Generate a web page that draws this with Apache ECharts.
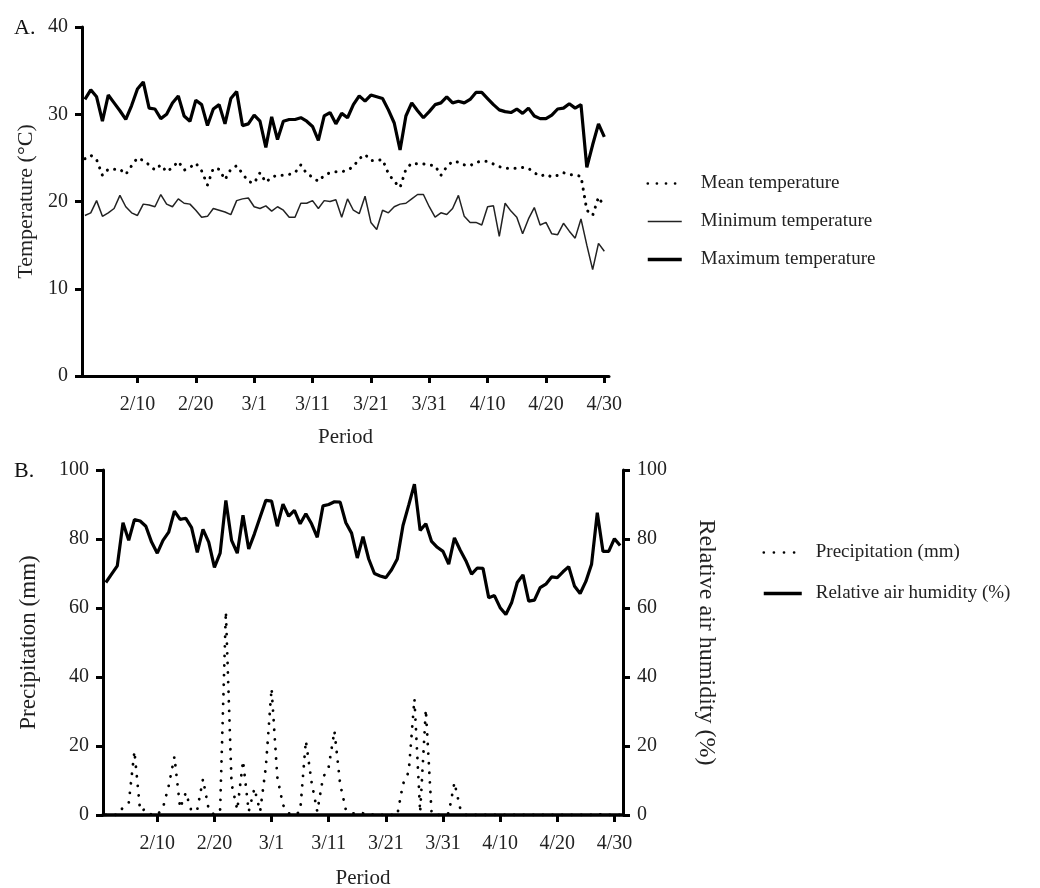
<!DOCTYPE html>
<html>
<head>
<meta charset="utf-8">
<script src="https://cdn.jsdelivr.net/npm/echarts@6/dist/echarts.min.js"></script>
<style>
  html, body { margin: 0; padding: 0; background: #fff; }
  #chart { width: 1040px; height: 888px; }
</style>
</head>
<body>
<div id="chart"></div>
<script>
  // tick positions (day number, Feb 1 = day 1) and their labels
  const tickDays = [10, 20, 30, 40, 50, 60, 70, 80, 90];
  const tickLabels = ['2/10', '2/20', '3/1', '3/11', '3/21', '3/31', '4/10', '4/20', '4/30'];

  // panel A, daily temperature (°C)
  const meanTemp = [24.9, 25.3, 24.8, 23.0, 23.7, 23.7, 23.7, 23.1, 24.1, 25.0,
    24.7, 24.2, 23.6, 24.2, 23.4, 23.9, 24.6, 23.6, 23.9, 24.4,
    23.5, 21.9, 23.8, 23.7, 22.5, 23.7, 24.1, 23.2, 22.3, 22.1,
    23.3, 22.2, 22.8, 23.0, 23.0, 23.1, 23.3, 24.2, 23.2, 22.8,
    22.3, 23.0, 23.3, 23.4, 23.4, 23.6, 24.0, 24.9, 25.4, 24.7,
    24.7, 24.8, 23.2, 22.3, 21.6, 23.7, 24.4, 24.3, 24.3, 24.2,
    24.1, 23.0, 24.0, 24.6, 24.5, 24.2, 24.1, 24.5, 24.6, 24.6,
    24.3, 24.0, 23.8, 23.8, 23.8, 23.9, 23.8, 23.3, 22.9, 23.1,
    22.8, 23.0, 23.3, 23.1, 23.0, 22.9, 19.0, 18.4, 20.5, 19.4];
  const minTemp = [18.4, 18.7, 20.1, 18.3, 18.7, 19.2, 20.7, 19.4, 18.7, 18.4,
    19.7, 19.6, 19.4, 20.8, 19.7, 19.4, 20.3, 19.8, 19.7, 19.0,
    18.2, 18.3, 19.2, 19.0, 18.8, 18.5, 20.1, 20.3, 20.4, 19.4,
    19.2, 19.5, 18.9, 19.4, 19.0, 18.2, 18.2, 19.8, 19.8, 20.1,
    19.2, 20.1, 20.0, 20.2, 18.2, 20.3, 19.0, 18.6, 20.6, 17.6,
    16.8, 19.0, 18.7, 19.4, 19.7, 19.8, 20.3, 20.8, 20.8, 19.4,
    18.2, 18.7, 18.5, 19.2, 20.7, 18.3, 17.6, 17.6, 17.3, 19.4,
    19.5, 16.0, 19.8, 18.9, 18.2, 16.3, 18.0, 19.3, 17.3, 17.6,
    16.3, 16.2, 17.5, 16.6, 15.8, 18.0, 15.0, 12.2, 15.2, 14.3];
  const maxTemp = [31.7, 32.8, 32.0, 29.2, 32.2, 31.3, 30.4, 29.4, 31.0, 32.9,
    33.7, 30.7, 30.6, 29.5, 30.0, 31.3, 32.1, 29.8, 29.2, 31.6,
    31.1, 28.7, 30.6, 31.1, 28.9, 31.8, 32.6, 28.7, 28.9, 29.9,
    29.2, 26.2, 29.7, 27.1, 29.2, 29.4, 29.4, 29.6, 29.2, 28.6,
    27.0, 29.8, 30.2, 28.9, 30.1, 29.6, 31.1, 32.1, 31.5, 32.2,
    32.0, 31.8, 30.5, 29.0, 25.9, 29.8, 31.3, 30.4, 29.6, 30.3,
    31.1, 31.3, 32.0, 31.3, 31.5, 31.3, 31.7, 32.5, 32.5, 31.8,
    31.1, 30.5, 30.3, 30.2, 30.6, 30.1, 30.7, 29.8, 29.5, 29.5,
    29.9, 30.6, 30.7, 31.2, 30.7, 31.1, 23.9, 26.5, 28.9, 27.4];

  // panel B, daily precipitation (mm) and relative air humidity (%)
  const precipitation = [0, 0, 0, 2.2, 3.4, 18.5, 1.2, 1.7, 0, 0,
    2.1, 8.5, 16.9, 2.0, 6.5, 1.0, 1.6, 10.4, 1.6, 0,
    1.6, 59.0, 9.0, 1.5, 15.7, 1.0, 7.7, 1.0, 14.0, 36.7,
    11.0, 2.9, 0.5, 0, 1.0, 21.5, 9.5, 1.0, 10.8, 14.0,
    24.4, 9.0, 1.5, 0.5, 0.5, 0.5, 0.3, 0, 0, 0,
    0, 0, 9.0, 12.5, 33.6, 0.8, 30.6, 0.5, 0, 0,
    0.5, 9.4, 2.0, 0, 0, 0, 0, 0, 0, 0,
    0, 0, 0, 0, 0, 0, 0, 0, 0, 0,
    0, 0, 0, 0, 0, 0, 0.4, 0, 0, 0, 0];
  const humidity = [67.4, 69.8, 72.2, 84.7, 79.6, 85.6, 85.2, 83.7, 79.1, 75.9,
    79.6, 82.0, 88.1, 85.7, 86.0, 83.3, 76.1, 82.8, 79.1, 71.8,
    75.9, 91.2, 79.6, 75.9, 86.9, 77.1, 81.5, 86.4, 91.2, 91.0,
    83.7, 90.1, 86.6, 88.3, 84.4, 87.3, 84.4, 80.5, 89.6, 90.0,
    90.8, 90.7, 84.7, 81.7, 74.5, 80.7, 74.2, 70.0, 69.3, 68.8,
    71.1, 74.2, 83.9, 89.8, 95.9, 82.5, 84.4, 79.3, 77.6, 76.4,
    72.7, 80.3, 76.8, 73.7, 69.8, 71.6, 71.5, 63.0, 63.6, 60.1,
    58.1, 61.5, 67.4, 69.6, 62.0, 62.3, 65.9, 66.9, 69.0, 68.8,
    70.5, 72.0, 66.4, 64.2, 67.7, 72.7, 87.6, 76.4, 76.4, 80.1, 78.1];

  const withDays = arr => arr.map((v, i) => [i + 1, v]);

  const serif = 'Liberation Serif';
  const tickText = { fontFamily: serif, fontSize: 20, color: '#222' };
  const nameText = size => ({ fontFamily: serif, fontSize: size, color: '#222' });
  const axisLine = w => ({ show: true, onZero: false, lineStyle: { color: '#000', width: w } });
  const axisTick = { show: true, length: 7, lineStyle: { color: '#000', width: 3 } };

  const dotted = (w, gap) => ({ color: '#000', width: w, type: [0.1, gap], cap: 'round' });
  const solid = (w, c) => ({ color: c || '#000', width: w });

  function dayAxis(grid, min, max, gap, lineW) {
    return {
      type: 'value', gridIndex: grid, min: min, max: max,
      name: 'Period', nameLocation: 'middle', nameGap: gap,
      nameTextStyle: nameText(21),
      axisLine: axisLine(lineW),
      axisTick: Object.assign({ customValues: tickDays }, axisTick),
      axisLabel: Object.assign({
        customValues: tickDays, margin: 19,
        formatter: v => tickLabels[tickDays.indexOf(v)] || ''
      }, tickText),
      splitLine: { show: false }
    };
  }

  function valueAxis(grid, max, interval, name, gap, pos, size) {
    return {
      type: 'value', gridIndex: grid, min: 0, max: max, interval: interval,
      position: pos, name: name, nameLocation: 'middle', nameGap: gap,
      nameRotate: pos === 'right' ? -90 : 90,
      nameTextStyle: nameText(size),
      axisLine: axisLine(3), axisTick: axisTick,
      axisLabel: Object.assign({ margin: 14 }, tickText),
      splitLine: { show: false }
    };
  }

  const chart = echarts.init(document.getElementById('chart'));
  chart.setOption({
    animation: false,
    backgroundColor: '#fff',
    title: [
      { text: 'A.', left: 9, top: 12, textStyle: { fontFamily: serif, fontSize: 22, fontWeight: 'normal', color: '#111' } },
      { text: 'B.', left: 9, top: 455, textStyle: { fontFamily: serif, fontSize: 22, fontWeight: 'normal', color: '#111' } }
    ],
    grid: [
      { left: 82, top: 27, width: 527, height: 349, outerBoundsMode: 'none' },
      { left: 103, top: 470, width: 520, height: 345, outerBoundsMode: 'none' }
    ],
    legend: [
      {
        data: [
          { name: 'Mean temperature', lineStyle: dotted(2.6, 9) },
          { name: 'Minimum temperature', lineStyle: solid(1.5, '#222') },
          { name: 'Maximum temperature', lineStyle: solid(3.5) }
        ],
        orient: 'vertical', left: 641, top: 169, itemWidth: 34, itemHeight: 14, itemGap: 19,
        itemStyle: { opacity: 0 },
        textStyle: { fontFamily: serif, fontSize: 19, color: '#222', padding: [0, 0, 0, 14] }
      },
      {
        data: [
          { name: 'Precipitation (mm)', lineStyle: dotted(2.6, 10) },
          { name: 'Relative air humidity (%)', lineStyle: solid(3.5) }
        ],
        orient: 'vertical', left: 757, top: 538, itemWidth: 38, itemHeight: 14, itemGap: 22,
        itemStyle: { opacity: 0 },
        textStyle: { fontFamily: serif, fontSize: 19, color: '#222', padding: [0, 0, 0, 9] }
      }
    ],
    xAxis: [dayAxis(0, 0.5, 90.8, 51, 3), dayAxis(1, 0.5, 91.5, 53, 3.6)],
    yAxis: [
      valueAxis(0, 40, 10, 'Temperature (°C)', 44, 'left', 22),
      valueAxis(1, 100, 20, 'Precipitation (mm)', 63, 'left', 23),
      valueAxis(1, 100, 20, 'Relative air humidity (%)', 71, 'right', 24)
    ],
    series: [
      {
        name: 'Mean temperature', type: 'line', xAxisIndex: 0, yAxisIndex: 0,
        symbol: 'none', data: withDays(meanTemp), lineStyle: dotted(3, 7.5)
      },
      {
        name: 'Minimum temperature', type: 'line', xAxisIndex: 0, yAxisIndex: 0,
        symbol: 'none', data: withDays(minTemp), lineStyle: solid(1.5, '#222')
      },
      {
        name: 'Maximum temperature', type: 'line', xAxisIndex: 0, yAxisIndex: 0,
        symbol: 'none', data: withDays(maxTemp), lineStyle: solid(3.2)
      },
      {
        name: 'Precipitation (mm)', type: 'line', xAxisIndex: 1, yAxisIndex: 1,
        symbol: 'none', z: -1, data: withDays(precipitation), lineStyle: dotted(2.8, 9.5)
      },
      {
        name: 'Relative air humidity (%)', type: 'line', xAxisIndex: 1, yAxisIndex: 2,
        symbol: 'none', data: withDays(humidity), lineStyle: solid(3.2)
      }
    ]
  });
</script>
</body>
</html>
